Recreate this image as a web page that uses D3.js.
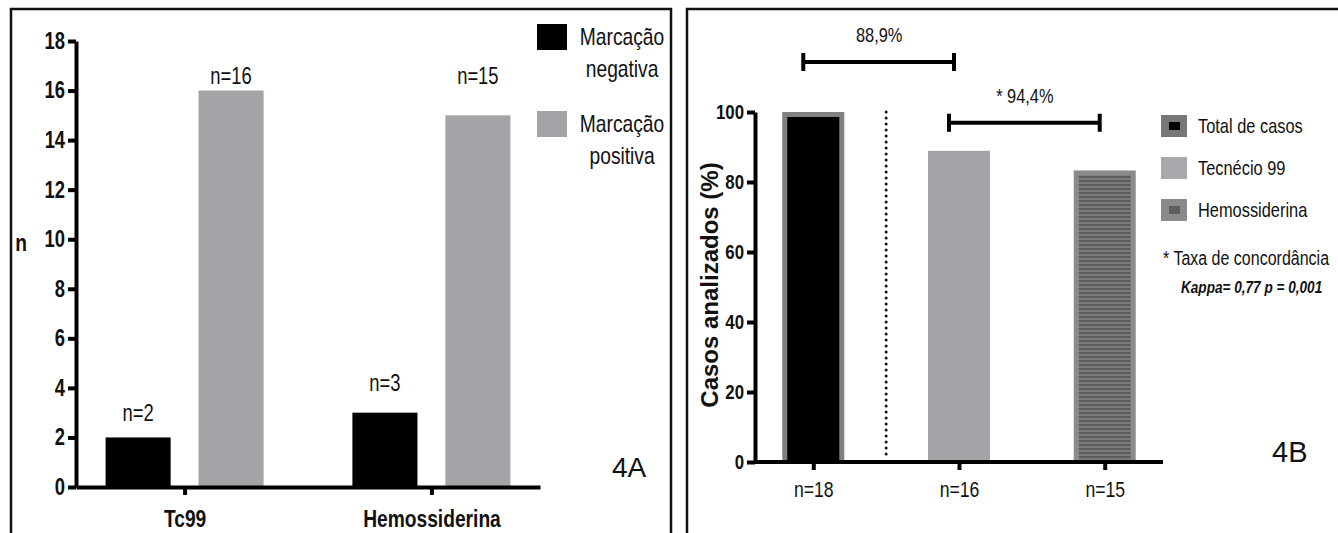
<!DOCTYPE html>
<meta charset="utf-8">
<head>
<script src="https://d3js.org/d3.v7.min.js"></script>
<style>
  body { margin: 0; background: #fff; }
  text { font-family: "Liberation Sans", Arial, sans-serif; fill: #111; }
  /* the figure uses a condensed Helvetica: squeeze the text horizontally */
  text:not(.wide) { transform-box: fill-box; transform-origin: center; transform: scaleX(0.8); }
  .yax text, text.end { transform-origin: right center; }
  text.start { transform-origin: left center; }
</style>
</head>
<body>
<div id="my_dataviz"></div>
<script>
  // ---- panel 4A data
  const groupsA = ["Tc99", "Hemossiderina"];
  const seriesA = ["Marcação negativa", "Marcação positiva"];
  const negativa = [2, 3];
  const positiva = [16, 15];
  const labelLevelA = [[3.0, 16.6], [4.2, 16.6]];   // where the n= labels sit (in n units)
  const ticksA = [0, 2, 4, 6, 8, 10, 12, 14, 16, 18];

  // ---- panel 4B data
  const catsB = ["n=18", "n=16", "n=15"];
  const seriesB = ["Total de casos", "Tecnécio 99", "Hemossiderina"];
  const pctB = [100, 88.9, 83.3];
  const ticksB = [0, 20, 40, 60, 80, 100];
  const brackets = [
    {from: 0, to: 1, level: 114.3, text: "88,9%"},
    {from: 1, to: 2, level: 96.9, text: "* 94,4%"}
  ];

  const colNeg = "#000", colPos = "#a3a4a8";

  const svg = d3.select("#my_dataviz").append("svg")
    .attr("width", 1338).attr("height", 533);

  // pattern for the hemossiderina bar
  const defs = svg.append("defs");
  const pat = defs.append("pattern").attr("id", "stripes")
    .attr("width", 8).attr("height", 4).attr("patternUnits", "userSpaceOnUse");
  pat.append("rect").attr("width", 8).attr("height", 4).attr("fill", "#7a7a7a");
  pat.append("rect").attr("width", 8).attr("height", 2).attr("fill", "#5b5b5b");

  // panel frames
  svg.append("rect").attr("x", 11).attr("y", 9).attr("width", 660).attr("height", 540)
    .attr("fill", "none").attr("stroke", "#111").attr("stroke-width", 2.5);
  svg.append("rect").attr("x", 687).attr("y", 9).attr("width", 700).attr("height", 540)
    .attr("fill", "none").attr("stroke", "#111").attr("stroke-width", 2.5);

  function styleAxis(g, size, bold) {
    g.select(".domain").attr("stroke", "#000").attr("stroke-width", 4);
    g.selectAll(".tick line").attr("stroke", "#000").attr("stroke-width", 4);
    g.selectAll(".tick text").attr("font-size", size).attr("fill", "#111")
      .attr("font-weight", bold ? "bold" : "normal");
  }

  // ================= 4A =================
  const yA = d3.scaleLinear().domain([0, 18]).range([487, 41]);
  const xA = d3.scalePoint().domain(groupsA).range([76, 540]).padding(0.44);
  const xAin = d3.scaleBand().domain(seriesA).range([-79, 79]).paddingInner(0.3);

  const gA = svg.append("g");
  const rowsA = groupsA.map((g, i) => [
    {g, s: seriesA[0], v: negativa[i], lv: labelLevelA[i][0]},
    {g, s: seriesA[1], v: positiva[i], lv: labelLevelA[i][1]}
  ]).flat();

  gA.selectAll("rect.bar").data(rowsA).join("rect")
    .attr("class", "bar")
    .attr("x", d => xA(d.g) + xAin(d.s))
    .attr("width", xAin.bandwidth())
    .attr("y", d => yA(d.v))
    .attr("height", d => yA(0) - yA(d.v))
    .attr("fill", d => d.s === seriesA[0] ? colNeg : colPos);

  gA.selectAll("text.nlab").data(rowsA).join("text")
    .attr("class", "nlab")
    .attr("x", d => xA(d.g) + xAin(d.s) + xAin.bandwidth() / 2)
    .attr("y", d => yA(d.lv))
    .attr("dy", "0.35em")
    .attr("text-anchor", "middle")
    .attr("font-size", 23)
    .text(d => "n=" + d.v);

  const yAxA = gA.append("g").attr("class", "yax").attr("transform", "translate(76,0)")
    .call(d3.axisLeft(yA).tickValues(ticksA).tickSize(8).tickSizeOuter(0).tickPadding(3));
  styleAxis(yAxA, 23, true);

  const xAxA = gA.append("g").attr("transform", `translate(0,${yA(0)})`)
    .call(d3.axisBottom(xA).tickSize(8).tickSizeOuter(0).tickPadding(15));
  styleAxis(xAxA, 24, true);

  gA.append("text").attr("x", 21).attr("y", 243).attr("dy", "0.35em")
    .attr("text-anchor", "middle").attr("font-size", 24).attr("font-weight", "bold").text("n");

  // legend 4A
  const legA = gA.selectAll("g.leg").data(seriesA).join("g")
    .attr("class", "leg")
    .attr("transform", (d, i) => `translate(537,${24 + i * 87})`);
  legA.append("rect").attr("width", 30).attr("height", 26)
    .attr("fill", (d, i) => i === 0 ? colNeg : colPos);
  legA.append("text").attr("x", 85).attr("y", 13).attr("dy", "0.35em")
    .attr("text-anchor", "middle").attr("font-size", 24)
    .text(d => d.split(" ")[0]);
  legA.append("text").attr("x", 85).attr("y", 45).attr("dy", "0.35em")
    .attr("text-anchor", "middle").attr("font-size", 24)
    .text(d => d.split(" ")[1]);

  gA.append("text").attr("class", "wide").attr("x", 612).attr("y", 477)
    .attr("font-size", 28).text("4A");

  // ================= 4B =================
  const yB = d3.scaleLinear().domain([0, 100]).range([462, 112]);
  const xB = d3.scalePoint().domain(catsB).range([755, 1163]).padding(0.4);
  const bwB = 62;
  const gB = svg.append("g");

  const rowsB = catsB.map((c, i) => ({c, s: seriesB[i], v: pctB[i], i}));

  // bars (outer frame + inner fill)
  const bars = gB.selectAll("g.barB").data(rowsB).join("g").attr("class", "barB");
  bars.append("rect")
    .attr("x", d => xB(d.c) - bwB / 2)
    .attr("width", bwB)
    .attr("y", d => yB(d.v))
    .attr("height", d => yB(0) - yB(d.v))
    .attr("fill", d => ["#808080", "#a3a4a8", "#8b8b8b"][d.i]);
  bars.filter(d => d.i !== 1).append("rect")
    .attr("x", d => xB(d.c) - bwB / 2 + 5)
    .attr("width", bwB - 10)
    .attr("y", d => yB(d.v) + 5)
    .attr("height", d => yB(0) - yB(d.v) - 5)
    .attr("fill", d => d.i === 0 ? "#000" : "url(#stripes)");

  // dotted separator
  gB.append("line")
    .attr("x1", (xB(catsB[0]) + xB(catsB[1])) / 2)
    .attr("x2", (xB(catsB[0]) + xB(catsB[1])) / 2)
    .attr("y1", yB(100)).attr("y2", yB(1.5))
    .attr("stroke", "#111").attr("stroke-width", 3)
    .attr("stroke-linecap", "round").attr("stroke-dasharray", "0,6");

  const yAxB = gB.append("g").attr("class", "yax").attr("transform", "translate(755,0)")
    .call(d3.axisLeft(yB).tickValues(ticksB).tickSize(8).tickSizeOuter(0).tickPadding(3));
  styleAxis(yAxB, 21, true);

  const xAxB = gB.append("g").attr("transform", `translate(0,${yB(0)})`)
    .call(d3.axisBottom(xB).tickSize(8).tickSizeOuter(0).tickPadding(11));
  xAxB.select(".domain").attr("d", "M755,0H1163");
  styleAxis(xAxB, 22, false);

  gB.append("text").attr("class", "wide")
    .attr("transform", `translate(710,285) rotate(-90)`)
    .attr("dy", "0.35em").attr("text-anchor", "middle")
    .attr("font-size", 24).attr("font-weight", "bold")
    .text("Casos analizados (%)");

  // brackets
  const br = gB.selectAll("g.br").data(brackets).join("g").attr("class", "br");
  br.append("path")
    .attr("d", d => {
      const x1 = xB(catsB[d.from]) - 10, x2 = xB(catsB[d.to]) - 5, y = yB(d.level);
      return `M${x1},${y - 9}V${y + 9}M${x1},${y}H${x2}M${x2},${y - 9}V${y + 9}`;
    })
    .attr("fill", "none").attr("stroke", "#000").attr("stroke-width", 4);
  br.append("text")
    .attr("x", d => (xB(catsB[d.from]) + xB(catsB[d.to])) / 2 - 7)
    .attr("y", d => yB(d.level) - 27)
    .attr("dy", "0.35em").attr("text-anchor", "middle").attr("font-size", 20.5)
    .text(d => d.text);

  // legend 4B
  const legB = gB.selectAll("g.legB").data(seriesB).join("g")
    .attr("class", "legB")
    .attr("transform", (d, i) => `translate(1161,${115 + i * 42})`);
  legB.append("rect").attr("width", 26).attr("height", 22)
    .attr("fill", (d, i) => ["#777", "#a9a9ad", "#8a8a8a"][i]);
  legB.filter((d, i) => i !== 1).append("rect")
    .attr("x", 8).attr("y", 7).attr("width", 11).attr("height", 8)
    .attr("fill", (d, i) => i === 0 ? "#000" : "#5e5e5e");
  legB.append("text").attr("class", "start").attr("x", 37).attr("y", 11).attr("dy", "0.35em")
    .attr("font-size", 20.5).text(d => d);

  gB.append("text").attr("class", "start").attr("x", 1163).attr("y", 258).attr("dy", "0.35em")
    .attr("font-size", 20).text("* Taxa de concordância");
  gB.append("text").attr("class", "start").attr("x", 1181).attr("y", 287).attr("dy", "0.35em")
    .attr("font-size", 17).attr("font-weight", "bold").attr("font-style", "italic")
    .text("Kappa= 0,77  p = 0,001");

  gB.append("text").attr("class", "wide").attr("x", 1272).attr("y", 462)
    .attr("font-size", 29).text("4B");
</script>
</body>
